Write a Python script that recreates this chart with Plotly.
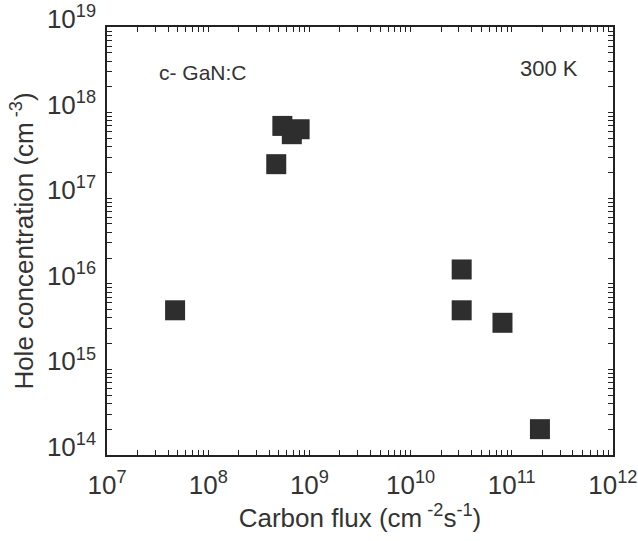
import plotly.graph_objects as go

carbon_flux = [4.7e7, 4.7e8, 5.4e8, 6.7e8, 8.0e8, 3.2e10, 3.2e10, 8.1e10, 1.9e11]
hole_conc = [4.9e15, 2.5e17, 7.0e17, 5.6e17, 6.4e17, 1.47e16, 4.9e15, 3.5e15, 2.0e14]

x_decades = [7, 8, 9, 10, 11, 12]
y_decades = [14, 15, 16, 17, 18, 19]

font_family = "Liberation Sans, Arial, sans-serif"
txt_color = "#333333"
axis_color = "#222222"


def ticks(decs):
    vals, texts = [], []
    for i, d in enumerate(decs):
        vals.append(10.0 ** d)
        texts.append(f"10<sup>{d}</sup>")
        if i < len(decs) - 1:
            for m in range(2, 10):
                vals.append(m * 10.0 ** d)
                texts.append("")
    return vals, texts


xt_v, xt_t = ticks(x_decades)
yt_v, yt_t = ticks(y_decades)

eps = 0.001
xr = [x_decades[0] - eps, x_decades[-1] + eps]
yr = [y_decades[0] - eps, y_decades[-1] + eps]

fig = go.Figure()
fig.add_trace(go.Scatter(
    x=carbon_flux, y=hole_conc, mode="markers",
    marker=dict(symbol="square", size=20, color="#2e2e2e", line=dict(width=0)),
    showlegend=False,
))

fig.update_layout(
    width=638, height=541,
    margin=dict(l=107, r=25, t=27, b=86, autoexpand=False),
    plot_bgcolor="white", paper_bgcolor="white",
    xaxis=dict(
        type="log", range=xr, tickmode="array", tickvals=xt_v, ticktext=xt_t,
        ticks="inside", ticklen=5, tickwidth=1, tickcolor=axis_color,
        showline=True, linecolor=axis_color, linewidth=1.5, mirror="allticks",
        showgrid=False, zeroline=False, ticklabelstandoff=6,
        ticklabeloverflow="allow", automargin=False,
        tickfont=dict(family=font_family, size=26, color=txt_color),
        title=dict(text="Carbon flux (cm<sup> -2</sup>s<sup>-1</sup>)",
                   font=dict(family=font_family, size=26, color=txt_color),
                   standoff=8),
    ),
    yaxis=dict(
        type="log", range=yr, tickmode="array", tickvals=yt_v, ticktext=yt_t,
        ticks="inside", ticklen=5, tickwidth=1, tickcolor=axis_color,
        showline=True, linecolor=axis_color, linewidth=1.5, mirror="allticks",
        showgrid=False, zeroline=False, ticklabelshift=-8, ticklabelstandoff=4,
        ticklabeloverflow="allow", automargin=False,
        tickfont=dict(family=font_family, size=26, color=txt_color),
        title=dict(text="Hole concentration (cm<sup> -3</sup>)",
                   font=dict(family=font_family, size=26, color=txt_color),
                   standoff=6),
    ),
)

fig.add_annotation(x=0.19, y=0.894, xref="paper", yref="paper", text="c- GaN:C",
                   xanchor="center", yanchor="middle",
                   showarrow=False, font=dict(family=font_family, size=21, color=txt_color))
fig.add_annotation(x=0.873, y=0.903, xref="paper", yref="paper", text="300 K",
                   xanchor="center", yanchor="middle",
                   showarrow=False, font=dict(family=font_family, size=22, color=txt_color))

fig.write_html("out.html")
